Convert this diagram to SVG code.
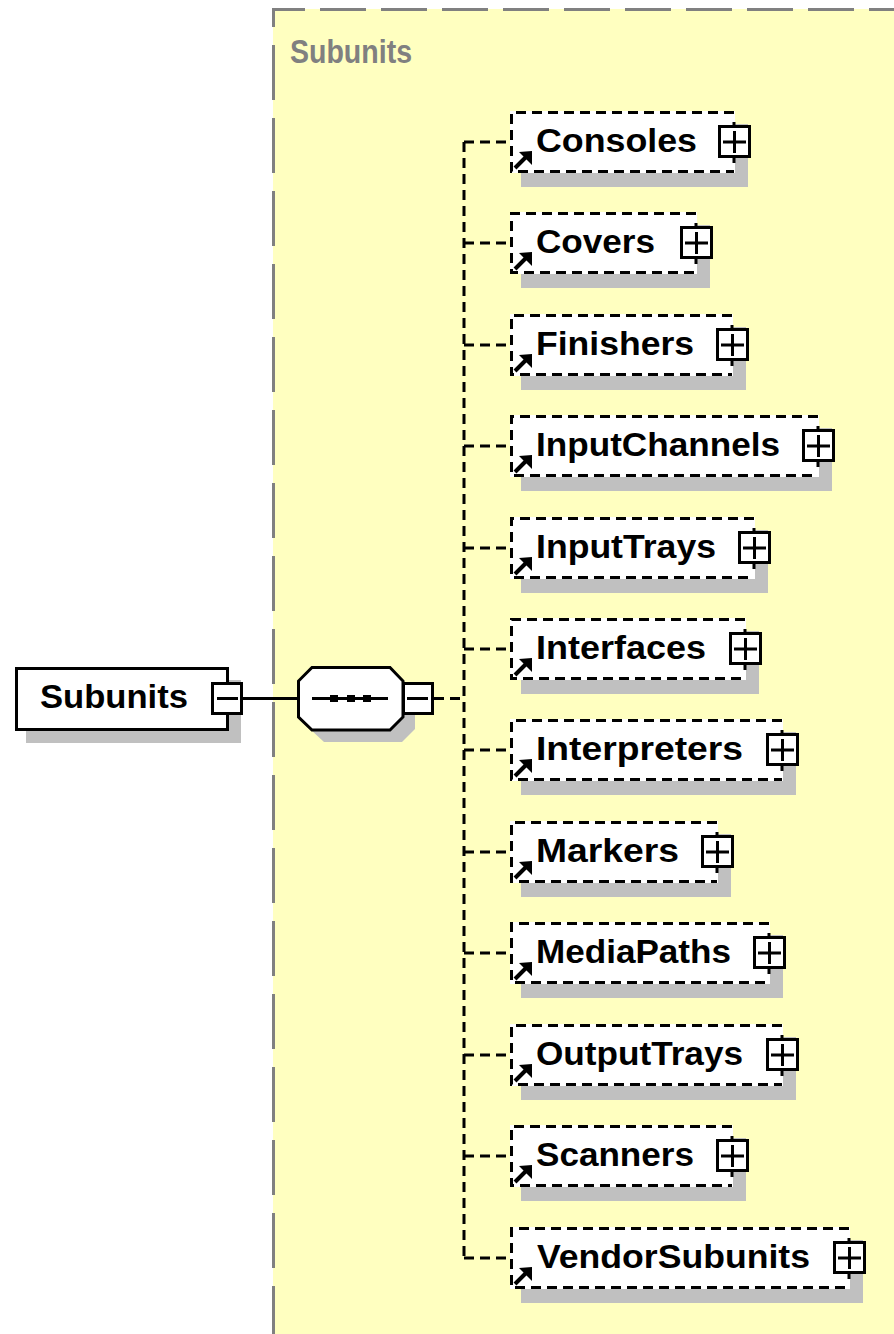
<svg xmlns="http://www.w3.org/2000/svg" width="894" height="1334" viewBox="0 0 894 1334">
<style>
.lbl{font-family:"Liberation Sans",Arial,sans-serif;font-weight:bold;font-size:33px;fill:#000}
.shadow{fill:#c0c0c0}
.box{fill:#fff}
.dash{fill:none;stroke:#000;stroke-width:3;stroke-dasharray:10 6}
.solid{fill:none;stroke:#000;stroke-width:3}
.btn{fill:#fff;stroke:#000;stroke-width:3}
.conn{fill:none;stroke:#000;stroke-width:3;stroke-dasharray:10 6}
</style>
<defs>
<g id="arrow">
<line x1="515" y1="57" x2="526" y2="46" stroke="#000" stroke-width="4"/>
<polygon points="532,40 519,41 532,54" fill="#000"/>
</g>
</defs>
<rect x="0" y="0" width="894" height="1334" fill="#fff"/>
<g id="group-subunits">
<rect x="273" y="9" width="640" height="1340" fill="#ffffc0"/>
<line x1="272" y1="9.5" x2="894" y2="9.5" stroke="#808080" stroke-width="3" stroke-dasharray="46 15" stroke-dashoffset="13"/>
<line x1="273.5" y1="8" x2="273.5" y2="1334" stroke="#808080" stroke-width="3" stroke-dasharray="55 18" stroke-dashoffset="36"/>
<text x="290" y="63" font-family="Liberation Sans, Arial, sans-serif" font-weight="bold" font-size="33" fill="#808080" textLength="122" lengthAdjust="spacingAndGlyphs">Subunits</text>
</g>
<g id="connectors">
<line x1="243" y1="698.5" x2="298" y2="698.5" class="solid"/>
<line x1="434" y1="698.5" x2="464" y2="698.5" class="conn"/>
<line x1="464" y1="142" x2="464" y2="1258" class="conn"/>
<line x1="464" y1="142" x2="510" y2="142" class="conn"/>
<line x1="464" y1="243" x2="510" y2="243" class="conn"/>
<line x1="464" y1="345" x2="510" y2="345" class="conn"/>
<line x1="464" y1="446" x2="510" y2="446" class="conn"/>
<line x1="464" y1="548" x2="510" y2="548" class="conn"/>
<line x1="464" y1="649" x2="510" y2="649" class="conn"/>
<line x1="464" y1="750" x2="510" y2="750" class="conn"/>
<line x1="464" y1="852" x2="510" y2="852" class="conn"/>
<line x1="464" y1="953" x2="510" y2="953" class="conn"/>
<line x1="464" y1="1055" x2="510" y2="1055" class="conn"/>
<line x1="464" y1="1156" x2="510" y2="1156" class="conn"/>
<line x1="464" y1="1258" x2="510" y2="1258" class="conn"/>
</g>
<g id="root">
<rect x="26" y="680" width="215" height="63" class="shadow"/>
<rect x="16.5" y="668.5" width="211" height="61" fill="#fff" stroke="#000" stroke-width="3"/>
<text x="40" y="708" class="lbl" textLength="148" lengthAdjust="spacingAndGlyphs">Subunits</text>
<rect x="212.5" y="683.5" width="29" height="30" class="btn"/>
<line x1="217" y1="698.5" x2="238" y2="698.5" class="solid"/>
</g>
<g id="sequence">
<polygon points="324,679 402,679 415,693 415,729 402,742 324,742 310,729 310,693" class="shadow"/>
<polygon points="312,667.5 390,667.5 403,681 403,717 390,730 312,730 298.5,717 298.5,681" fill="#fff" stroke="#000" stroke-width="3"/>
<line x1="312" y1="698.5" x2="388" y2="698.5" class="solid"/>
<rect x="330" y="695" width="8" height="7" fill="#000"/>
<rect x="347" y="695" width="8" height="7" fill="#000"/>
<rect x="363" y="695" width="8" height="7" fill="#000"/>
<rect x="403.5" y="683.5" width="29" height="30" class="btn"/>
<line x1="407" y1="698.5" x2="428" y2="698.5" class="solid"/>
</g>
<g id="node-consoles" transform="translate(0,111)">
<rect x="521" y="13" width="227" height="63" class="shadow"/>
<rect x="510" y="0" width="225" height="62" class="box"/>
<path d="M734,1.5 H511.5 V60.5 H734" class="dash"/>
<line x1="734" y1="11" x2="734" y2="52" class="solid"/>
<rect x="719.5" y="15.5" width="30" height="30" class="btn"/>
<path d="M723,31 H746 M734.5,20 V42" class="solid"/>
<use href="#arrow"/>
<text x="536" y="41" class="lbl" textLength="161" lengthAdjust="spacingAndGlyphs">Consoles</text>
</g>
<g id="node-covers" transform="translate(0,212)">
<rect x="521" y="13" width="189" height="63" class="shadow"/>
<rect x="510" y="0" width="187" height="62" class="box"/>
<path d="M696,1.5 H511.5 V60.5 H696" class="dash"/>
<line x1="696" y1="11" x2="696" y2="52" class="solid"/>
<rect x="681.5" y="15.5" width="30" height="30" class="btn"/>
<path d="M685,31 H708 M696.5,20 V42" class="solid"/>
<use href="#arrow"/>
<text x="536" y="41" class="lbl" textLength="119" lengthAdjust="spacingAndGlyphs">Covers</text>
</g>
<g id="node-finishers" transform="translate(0,314)">
<rect x="521" y="13" width="225" height="63" class="shadow"/>
<rect x="510" y="0" width="223" height="62" class="box"/>
<path d="M732,1.5 H511.5 V60.5 H732" class="dash"/>
<line x1="732" y1="11" x2="732" y2="52" class="solid"/>
<rect x="717.5" y="15.5" width="30" height="30" class="btn"/>
<path d="M721,31 H744 M732.5,20 V42" class="solid"/>
<use href="#arrow"/>
<text x="536" y="41" class="lbl" textLength="158" lengthAdjust="spacingAndGlyphs">Finishers</text>
</g>
<g id="node-inputchannels" transform="translate(0,415)">
<rect x="521" y="13" width="311" height="63" class="shadow"/>
<rect x="510" y="0" width="309" height="62" class="box"/>
<path d="M818,1.5 H511.5 V60.5 H818" class="dash"/>
<line x1="818" y1="11" x2="818" y2="52" class="solid"/>
<rect x="803.5" y="15.5" width="30" height="30" class="btn"/>
<path d="M807,31 H830 M818.5,20 V42" class="solid"/>
<use href="#arrow"/>
<text x="536" y="41" class="lbl" textLength="244" lengthAdjust="spacingAndGlyphs">InputChannels</text>
</g>
<g id="node-inputtrays" transform="translate(0,517)">
<rect x="521" y="13" width="247" height="63" class="shadow"/>
<rect x="510" y="0" width="245" height="62" class="box"/>
<path d="M754,1.5 H511.5 V60.5 H754" class="dash"/>
<line x1="754" y1="11" x2="754" y2="52" class="solid"/>
<rect x="739.5" y="15.5" width="30" height="30" class="btn"/>
<path d="M743,31 H766 M754.5,20 V42" class="solid"/>
<use href="#arrow"/>
<text x="536" y="41" class="lbl" textLength="180" lengthAdjust="spacingAndGlyphs">InputTrays</text>
</g>
<g id="node-interfaces" transform="translate(0,618)">
<rect x="521" y="13" width="238" height="63" class="shadow"/>
<rect x="510" y="0" width="236" height="62" class="box"/>
<path d="M745,1.5 H511.5 V60.5 H745" class="dash"/>
<line x1="745" y1="11" x2="745" y2="52" class="solid"/>
<rect x="730.5" y="15.5" width="30" height="30" class="btn"/>
<path d="M734,31 H757 M745.5,20 V42" class="solid"/>
<use href="#arrow"/>
<text x="536" y="41" class="lbl" textLength="170" lengthAdjust="spacingAndGlyphs">Interfaces</text>
</g>
<g id="node-interpreters" transform="translate(0,719)">
<rect x="521" y="13" width="275" height="63" class="shadow"/>
<rect x="510" y="0" width="273" height="62" class="box"/>
<path d="M782,1.5 H511.5 V60.5 H782" class="dash"/>
<line x1="782" y1="11" x2="782" y2="52" class="solid"/>
<rect x="767.5" y="15.5" width="30" height="30" class="btn"/>
<path d="M771,31 H794 M782.5,20 V42" class="solid"/>
<use href="#arrow"/>
<text x="536" y="41" class="lbl" textLength="207" lengthAdjust="spacingAndGlyphs">Interpreters</text>
</g>
<g id="node-markers" transform="translate(0,821)">
<rect x="521" y="13" width="210" height="63" class="shadow"/>
<rect x="510" y="0" width="208" height="62" class="box"/>
<path d="M717,1.5 H511.5 V60.5 H717" class="dash"/>
<line x1="717" y1="11" x2="717" y2="52" class="solid"/>
<rect x="702.5" y="15.5" width="30" height="30" class="btn"/>
<path d="M706,31 H729 M717.5,20 V42" class="solid"/>
<use href="#arrow"/>
<text x="536" y="41" class="lbl" textLength="143" lengthAdjust="spacingAndGlyphs">Markers</text>
</g>
<g id="node-mediapaths" transform="translate(0,922)">
<rect x="521" y="13" width="262" height="63" class="shadow"/>
<rect x="510" y="0" width="260" height="62" class="box"/>
<path d="M769,1.5 H511.5 V60.5 H769" class="dash"/>
<line x1="769" y1="11" x2="769" y2="52" class="solid"/>
<rect x="754.5" y="15.5" width="30" height="30" class="btn"/>
<path d="M758,31 H781 M769.5,20 V42" class="solid"/>
<use href="#arrow"/>
<text x="536" y="41" class="lbl" textLength="195" lengthAdjust="spacingAndGlyphs">MediaPaths</text>
</g>
<g id="node-outputtrays" transform="translate(0,1024)">
<rect x="521" y="13" width="275" height="63" class="shadow"/>
<rect x="510" y="0" width="273" height="62" class="box"/>
<path d="M782,1.5 H511.5 V60.5 H782" class="dash"/>
<line x1="782" y1="11" x2="782" y2="52" class="solid"/>
<rect x="767.5" y="15.5" width="30" height="30" class="btn"/>
<path d="M771,31 H794 M782.5,20 V42" class="solid"/>
<use href="#arrow"/>
<text x="536" y="41" class="lbl" textLength="207" lengthAdjust="spacingAndGlyphs">OutputTrays</text>
</g>
<g id="node-scanners" transform="translate(0,1125)">
<rect x="521" y="13" width="225" height="63" class="shadow"/>
<rect x="510" y="0" width="223" height="62" class="box"/>
<path d="M732,1.5 H511.5 V60.5 H732" class="dash"/>
<line x1="732" y1="11" x2="732" y2="52" class="solid"/>
<rect x="717.5" y="15.5" width="30" height="30" class="btn"/>
<path d="M721,31 H744 M732.5,20 V42" class="solid"/>
<use href="#arrow"/>
<text x="536" y="41" class="lbl" textLength="158" lengthAdjust="spacingAndGlyphs">Scanners</text>
</g>
<g id="node-vendorsubunits" transform="translate(0,1227)">
<rect x="521" y="13" width="342" height="63" class="shadow"/>
<rect x="510" y="0" width="340" height="62" class="box"/>
<path d="M849,1.5 H511.5 V60.5 H849" class="dash"/>
<line x1="849" y1="11" x2="849" y2="52" class="solid"/>
<rect x="834.5" y="15.5" width="30" height="30" class="btn"/>
<path d="M838,31 H861 M849.5,20 V42" class="solid"/>
<use href="#arrow"/>
<text x="537" y="41" class="lbl" textLength="273" lengthAdjust="spacingAndGlyphs">VendorSubunits</text>
</g>
</svg>
